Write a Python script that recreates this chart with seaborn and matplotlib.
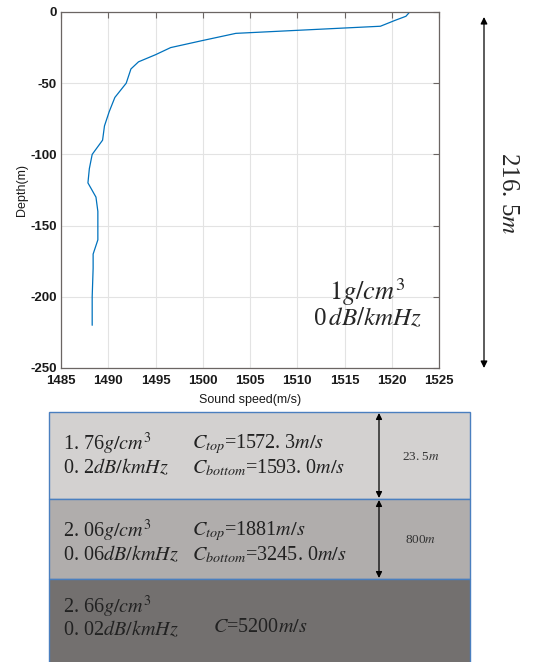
import numpy as np
import pandas as pd
import matplotlib
matplotlib.use("Agg")
import matplotlib.pyplot as plt
import seaborn as sns
from matplotlib.patches import Rectangle

# ---- data ----
depth = [0, 3, 6, 10, 15, 20, 25, 30, 35, 40, 50, 60, 70, 80, 90, 100, 110,
         120, 130, 140, 150, 160, 170, 180, 190, 200, 210, 220]
speed = [1521.9, 1521.5, 1520.3, 1518.8, 1503.5, 1500.0, 1496.6, 1495.0,
         1493.2, 1492.4, 1491.9, 1490.7, 1490.1, 1489.6, 1489.4, 1488.3,
         1488.0, 1487.85, 1488.7, 1488.9, 1488.9, 1488.9, 1488.4, 1488.4,
         1488.35, 1488.3, 1488.3, 1488.3]
x_ticks = [1485, 1490, 1495, 1500, 1505, 1510, 1515, 1520, 1525]
y_ticks = [0, -50, -100, -150, -200, -250]
water_text = ["$1g/cm^3$", "0$\\,dB/kmHz$"]
water_depth = "216. 5$m$"
layer_density = ["1. 76$g/cm^3$", "2. 06$g/cm^3$", "2. 66$g/cm^3$"]
layer_atten = ["0. 2$dB/kmHz$", "0. 06$dB/kmHz$", "0. 02$dB/kmHz$"]
layer_ctop = ["$C_{top}$=1572. 3$m/s$", "$C_{top}$=1881$m/s$"]
layer_cbot = ["$C_{bottom}$=1593. 0$m/s$", "$C_{bottom}$=3245. 0$m/s$"]
layer_c = "$C$=5200$m/s$"
layer_thick = ["23. 5$m$", "800$m$"]
layer_colors = ["#d3d1d0", "#b0adac", "#73706f"]

sns.set_theme(style="white")
plt.rcParams["mathtext.fontset"] = "stix"
plt.rcParams["font.family"] = ["Liberation Sans", "DejaVu Sans"]

W, H = 545, 662
fig = plt.figure(figsize=(W / 100, H / 100), dpi=100)

# ---- sound speed profile ----
ax = fig.add_axes([61 / W, 1 - 368 / H, 378 / W, 356 / H])
df = pd.DataFrame({"speed": speed, "depth": -np.array(depth)})
sns.lineplot(data=df, x="speed", y="depth", sort=False, estimator=None,
             color="#0072BD", lw=0.9, ax=ax)
ax.set_xlim(1485, 1525)
ax.set_ylim(-250, 0)
ax.set_xticks(x_ticks)
ax.set_yticks(y_ticks)
ax.set_xticklabels([str(t) for t in x_ticks])
ax.set_yticklabels([str(t) for t in y_ticks])
ax.grid(True, color="#e3e3e3", lw=0.8)
for s in ax.spines.values():
    s.set_color("#6b6563")
    s.set_linewidth(0.9)
ax.tick_params(direction="in", length=4, width=0.8, color="#6b6563",
               top=True, right=True, labelsize=9.5, labelcolor="#1a1a1a")
ax.tick_params(axis="x", pad=5)
ax.tick_params(axis="y", pad=3)
for lab in ax.get_xticklabels() + ax.get_yticklabels():
    lab.set_fontweight("bold")
ax.set_xlabel("Sound speed(m/s)", fontsize=9, labelpad=5, color="#1a1a1a")
ax.set_ylabel("Depth(m)", fontsize=9, labelpad=2, color="#1a1a1a")
ax.text(1517.4, -196.5, water_text[0], ha="center", va="center", fontsize=19,
        family="Liberation Serif")
ax.text(1517.4, -215, water_text[1], ha="center", va="center", fontsize=18,
        family="Liberation Serif")

# ---- overlay (pixel coordinates) ----
ov = fig.add_axes([0, 0, 1, 1])
ov.set_xlim(0, W)
ov.set_ylim(H, 0)
ov.axis("off")
ov.patch.set_alpha(0)

# water depth arrow
ov.annotate("", xy=(484, 17), xytext=(484, 368),
            arrowprops=dict(arrowstyle="<|-|>", color="black", lw=0.9,
                            mutation_scale=10, shrinkA=0, shrinkB=0))
ov.text(508, 193, water_depth, rotation=-90, ha="center", va="center",
        fontsize=18, family="Liberation Serif")

# layers
tops = [412, 499, 579]
bots = [499, 579, 664]
for i in range(3):
    ov.add_patch(Rectangle((49, tops[i]), 421, bots[i] - tops[i],
                           facecolor=layer_colors[i], edgecolor="#4a7fbf",
                           lw=1.0))

ser = "Liberation Serif"
fs = 14.5
col = "#222222"
for i in range(2):
    y1 = tops[i] + 32
    y2 = tops[i] + 56
    ov.text(63, y1, layer_density[i], ha="left", va="center", fontsize=fs,
            family=ser, color=col)
    ov.text(63, y2, layer_atten[i], ha="left", va="center", fontsize=fs,
            family=ser, color=col)
    ov.text(192, y1, layer_ctop[i], ha="left", va="center", fontsize=fs,
            family=ser, color=col)
    ov.text(192, y2, layer_cbot[i], ha="left", va="center", fontsize=fs,
            family=ser, color=col)
    ov.annotate("", xy=(379, tops[i] + 1), xytext=(379, bots[i] - 1),
                arrowprops=dict(arrowstyle="<|-|>", color="black", lw=0.9,
                                mutation_scale=9, shrinkA=0, shrinkB=0))
    ov.text(421, (tops[i] + bots[i]) / 2 + 1, layer_thick[i], ha="center",
            va="center", fontsize=9.5, family=ser, color="#333333")

ov.text(63, 607, layer_density[2], ha="left", va="center", fontsize=fs,
        family=ser, color=col)
ov.text(63, 630, layer_atten[2], ha="left", va="center", fontsize=fs,
        family=ser, color=col)
ov.text(213, 627, layer_c, ha="left", va="center", fontsize=fs,
        family=ser, color=col)

fig.savefig("out.png", dpi=100)
